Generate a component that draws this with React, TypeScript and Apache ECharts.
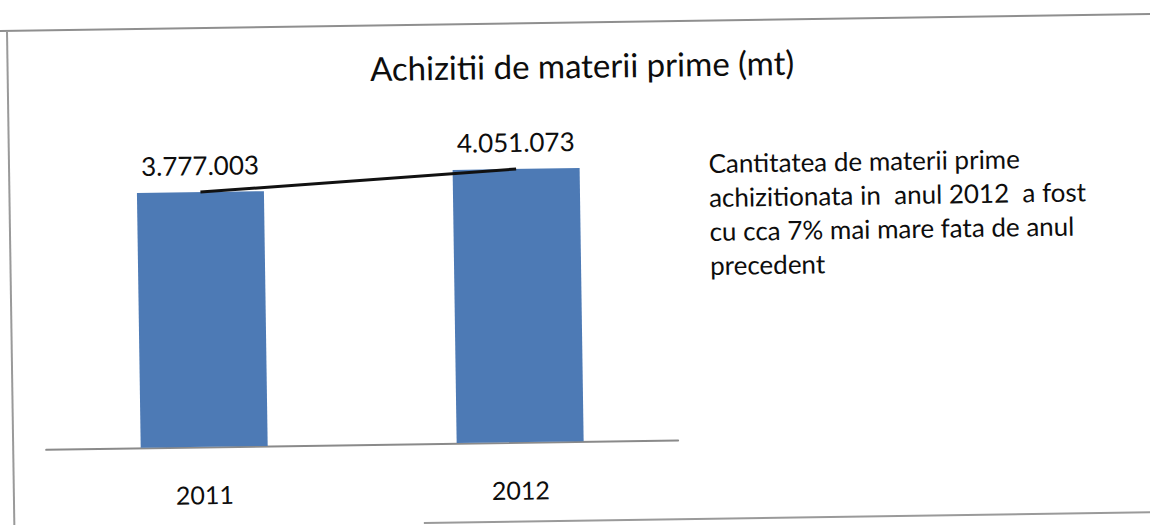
import React, { useEffect, useRef } from "react";
import * as echarts from "echarts";

const categories = ["2011", "2012"];
const values = [3777003, 4051073];
const titleText = "Achizitii de materii prime (mt)";
const noteLines = [
  "Cantitatea de materii prime",
  "achizitionata in  anul 2012  a fost",
  "cu cca 7% mai mare fata de anul",
  "precedent",
];

const fmt = (v: number) => String(Math.round(v)).replace(/\B(?=(\d{3})+(?!\d))/g, ".");

// offset of drawing area inside the oversized rotated canvas
const OX = 40;
const OY = 40;

export default function App() {
  const ref = useRef<HTMLDivElement>(null);
  useEffect(() => {
    document.documentElement.style.overflow = "hidden";
    document.body.style.overflow = "hidden";
    document.body.style.margin = "0";
    if (!ref.current) return;
    const chart = echarts.init(ref.current, null, { renderer: "svg" });
    const font = "Lato, 'Open Sans', sans-serif";
    chart.setOption({
      animation: false,
      grid: { left: 43.5 + OX, top: 137.8 + OY, width: 632, height: 303.5 },
      xAxis: {
        type: "category",
        data: categories,
        axisLine: { show: true, lineStyle: { color: "#8a8a8a", width: 2 } },
        axisTick: { show: false },
        axisLabel: { fontFamily: font, fontSize: 25, color: "#0d0d0d", margin: 35 },
      },
      yAxis: {
        type: "value",
        min: 0,
        max: 4500000,
        show: false,
        splitLine: { show: false },
      },
      series: [
        {
          type: "bar",
          data: values,
          barWidth: 127,
          itemStyle: { color: "#4d7ab5" },
          z: 2,
          label: {
            show: true,
            position: "top",
            distance: 14,
            fontFamily: font,
            fontSize: 26,
            color: "#0d0d0d",
            formatter: (p: any) => fmt(p.value),
          },
        },
        {
          type: "line",
          data: values,
          symbol: "none",
          lineStyle: { color: "#111111", width: 3 },
          z: 3,
        },
      ],
      graphic: [
        {
          type: "text",
          x: 585 + OX,
          y: 65 + OY,
          style: {
            text: titleText,
            fontFamily: font,
            fontSize: 33,
            fill: "#0d0d0d",
            textAlign: "center",
            textVerticalAlign: "middle",
          },
        },
        {
          type: "text",
          x: 710 + OX,
          y: 148 + OY,
          style: {
            text: noteLines.join("\n"),
            fontFamily: font,
            fontSize: 26,
            lineHeight: 34,
            fill: "#0d0d0d",
            textAlign: "left",
            textVerticalAlign: "top",
          },
        },
        {
          type: "line",
          shape: { x1: 0, y1: 22.5 + OY, x2: 1150 + 2 * OX, y2: 22.5 + OY },
          style: { stroke: "#8f8f8f", lineWidth: 2 },
        },
        {
          type: "line",
          shape: { x1: 10.5 + OX, y1: 22.5 + OY, x2: 10.5 + OX, y2: 525 + 2 * OY },
          style: { stroke: "#9a9a9a", lineWidth: 2 },
        },
        {
          type: "line",
          shape: { x1: 420 + OX, y1: 520.8 + OY, x2: 1150 + 2 * OX, y2: 520.8 + OY },
          style: { stroke: "#9a9a9a", lineWidth: 2 },
        },
      ],
    });
    return () => chart.dispose();
  }, []);
  return (
    <div
      style={{
        position: "fixed",
        left: 0,
        top: 0,
        width: 1150,
        height: 525,
        overflow: "hidden",
        background: "#ffffff",
      }}
    >
      <div
        style={{
          position: "absolute",
          left: -OX,
          top: -OY,
          width: 1150 + 2 * OX,
          height: 525 + 2 * OY,
          transform: "rotate(-0.85deg)",
          transformOrigin: `${575 + OX}px ${262.5 + OY}px`,
        }}
      >
        <div ref={ref} style={{ width: 1150 + 2 * OX, height: 525 + 2 * OY }} />
      </div>
    </div>
  );
}
